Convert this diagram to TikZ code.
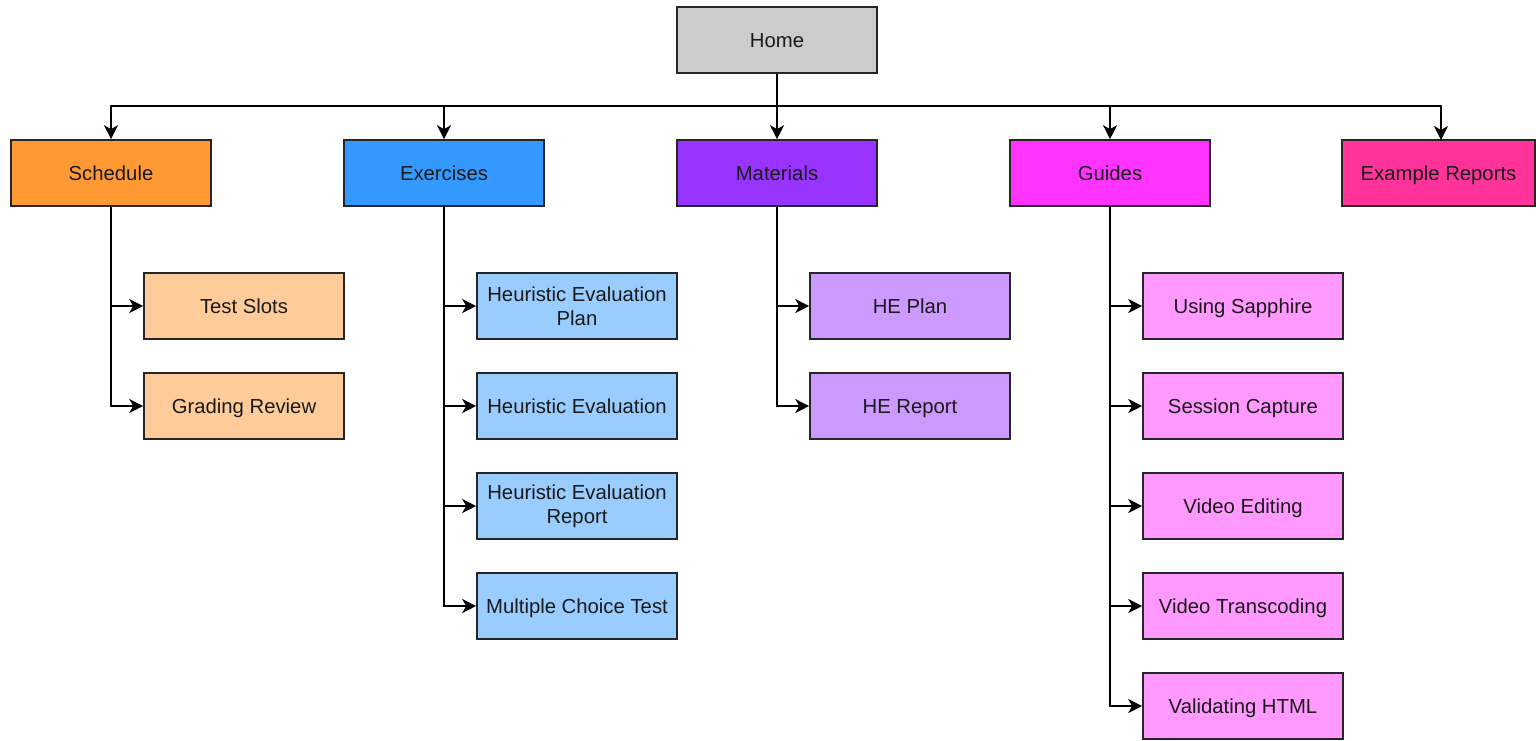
\documentclass[tikz,border=0pt]{standalone}
\usepackage{fontspec}
\setmainfont{Liberation Sans}
\usetikzlibrary{arrows.meta}
\definecolor{cHome}{HTML}{CCCCCC}
\definecolor{cSch}{HTML}{FF9933}
\definecolor{cSchL}{HTML}{FFCC99}
\definecolor{cEx}{HTML}{3399FF}
\definecolor{cExL}{HTML}{99CCFF}
\definecolor{cMat}{HTML}{9933FF}
\definecolor{cMatL}{HTML}{CC99FF}
\definecolor{cGui}{HTML}{FF33FF}
\definecolor{cGuiL}{HTML}{FF99FF}
\definecolor{cER}{HTML}{FF3399}
\definecolor{txt}{HTML}{1A1A1A}
\begin{document}
\begin{tikzpicture}[x=1pt,y=-1pt,
  boxbase/.style={draw=black!85, line width=1.6pt, minimum width=200pt, minimum height=66pt,
    inner sep=0pt, align=center, text=txt, font=\fontsize{20.3}{24.5}\selectfont},
  box/.style={boxbase, text height=17pt, text depth=2.5pt},
  conn/.style={draw=black, line width=1.6pt},
  arr/.style={conn, -{Stealth[length=14pt,width=14pt,inset=4pt,fill=black]}}]
\useasboundingbox (0,0) rectangle (1536,740);
\fill[white] (0,0) rectangle (1536,740);
% top
\node[box, fill=cHome] (home) at (777,40) {Home};
\node[box, fill=cSch] (sch) at (111,173) {Schedule};
\node[box, fill=cEx] (ex) at (444,173) {Exercises};
\node[box, fill=cMat] (mat) at (777,173) {Materials};
\node[box, fill=cGui] (gui) at (1110,173) {Guides};
\node[box, fill=cER, minimum width=193pt] (er) at (1438.5,173) {Example Reports};
% children
\node[box, fill=cSchL] (s1) at (244,306) {Test Slots};
\node[box, fill=cSchL] (s2) at (244,406) {Grading Review};
\node[boxbase, fill=cExL] (e1) at (577,306) {Heuristic Evaluation\\Plan};
\node[box, fill=cExL] (e2) at (577,406) {Heuristic Evaluation};
\node[boxbase, fill=cExL] (e3) at (577,506) {Heuristic Evaluation\\Report};
\node[box, fill=cExL] (e4) at (577,606) {Multiple Choice Test};
\node[box, fill=cMatL] (m1) at (910,306) {HE Plan};
\node[box, fill=cMatL] (m2) at (910,406) {HE Report};
\node[box, fill=cGuiL] (g1) at (1243,306) {Using Sapphire};
\node[box, fill=cGuiL] (g2) at (1243,406) {Session Capture};
\node[box, fill=cGuiL] (g3) at (1243,506) {Video Editing};
\node[box, fill=cGuiL] (g4) at (1243,606) {Video Transcoding};
\node[box, fill=cGuiL] (g5) at (1243,706) {Validating HTML};
% home connectors
\coordinate (bus) at (777,106);
\coordinate (erin) at (1441,140);
\draw[arr] (home.south) -- (mat.north);
\draw[arr] (bus) -| (sch.north);
\draw[arr] (bus) -| (ex.north);
\draw[arr] (bus) -| (gui.north);
\draw[arr] (bus) -| (erin);
% child connectors
\foreach \p/\c in {sch/s1,sch/s2,ex/e1,ex/e2,ex/e3,ex/e4,mat/m1,mat/m2,gui/g1,gui/g2,gui/g3,gui/g4,gui/g5}{
  \draw[arr] (\p.south) |- (\c.west);
}
\end{tikzpicture}
\end{document}
